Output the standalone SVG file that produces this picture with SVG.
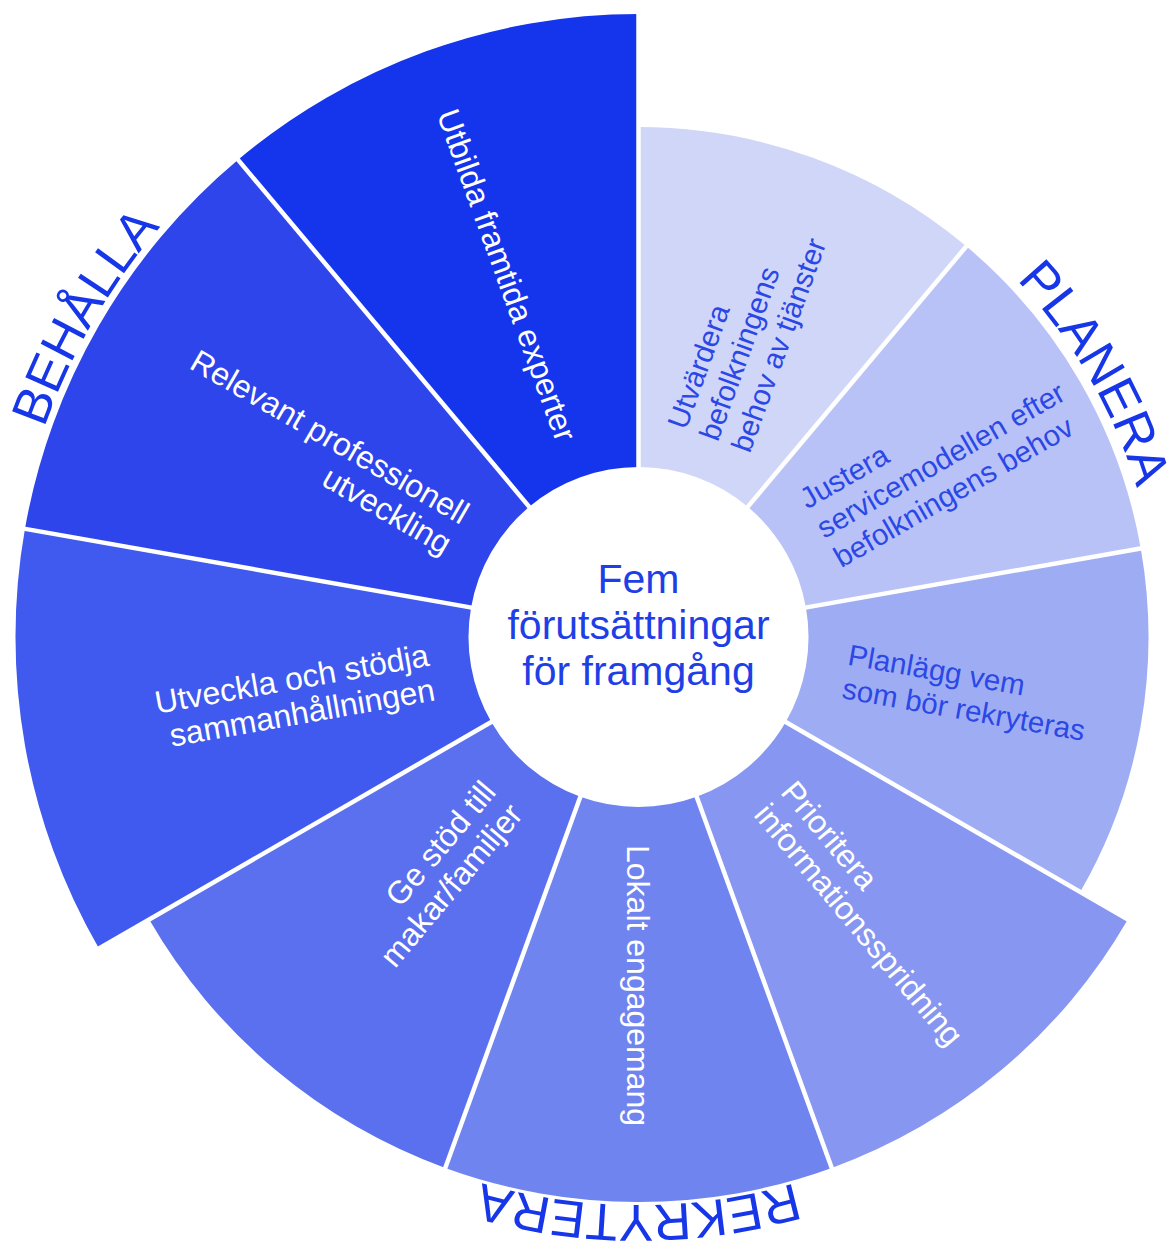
<svg xmlns="http://www.w3.org/2000/svg" width="1168" height="1244" viewBox="0 0 1168 1244">
<defs>
<style>
.lbl{font-family:"Liberation Sans",Arial,Helvetica,sans-serif;}
.lt{fill:#2B47E6;font-size:29.5px}
.dk{fill:#FFFFFF;font-size:32px}
.sep{stroke:#FFFFFF;stroke-width:4.5;fill:none}
.ring{font-family:"Liberation Sans",Arial,Helvetica,sans-serif;font-size:52px;fill:#1636E8}
.center{font-family:"Liberation Sans",Arial,Helvetica,sans-serif;font-size:41px;fill:#1F3FE6;text-anchor:middle}
</style>
<path id="arcPlanera" d="M 638.5 117 A 520 520 0 0 1 1088.83 897"/>
<path id="arcBehalla" d="M 92.9 952 A 630 630 0 0 1 638.5 7"/>
<path id="arcRekrytera" d="M 1130.4 921 A 568 568 0 0 1 146.6 921"/>
</defs>
<rect width="1168" height="1244" fill="#FFFFFF"/>

<g id="n1">
<path fill="#D0D6F8" d="M 638.5 467 L 638.5 127 A 510 510 0 0 1 966.32 246.32 L 747.77 506.77 A 170 170 0 0 0 638.5 467 Z"/>
<text class="lbl lt" transform="translate(638.5 637) rotate(-70) translate(210 0)"><tspan x="0" y="-26">Utvärdera</tspan><tspan x="0" y="8">befolkningens</tspan><tspan x="0" y="42">behov av tjänster</tspan></text>
</g>
<g id="n2">
<path fill="#B8C2F7" d="M 747.77 506.77 L 966.32 246.32 A 510 510 0 0 1 1140.75 548.44 L 805.92 607.48 A 170 170 0 0 0 747.77 506.77 Z"/>
<text class="lbl lt" transform="translate(638.5 637) rotate(-30) translate(210 0)"><tspan x="0" y="-26">Justera</tspan><tspan x="0" y="8">servicemodellen efter</tspan><tspan x="0" y="42">befolkningens behov</tspan></text>
</g>
<g id="n3">
<path fill="#9EADF3" d="M 805.92 607.48 L 1140.75 548.44 A 510 510 0 0 1 1080.17 892 L 785.72 722 A 170 170 0 0 0 805.92 607.48 Z"/>
<text class="lbl lt" transform="translate(638.5 637) rotate(10) translate(210 0)"><tspan x="0" y="-9">Planlägg vem</tspan><tspan x="0" y="25">som bör rekryteras</tspan></text>
</g>
<g id="n4">
<path fill="#8797F1" d="M 785.72 722 L 1127.8 919.5 A 565 565 0 0 1 831.74 1167.93 L 696.64 796.75 A 170 170 0 0 0 785.72 722 Z"/>
<text class="lbl dk" transform="translate(638.5 637) rotate(50) translate(210 0)"><tspan x="0" y="-8">Prioritera</tspan><tspan x="0" y="27">informationsspridning</tspan></text>
</g>
<g id="n5">
<path fill="#6F84EF" d="M 696.64 796.75 L 831.74 1167.93 A 565 565 0 0 1 445.26 1167.93 L 580.36 796.75 A 170 170 0 0 0 696.64 796.75 Z"/>
<text class="lbl dk" transform="translate(638.5 637) rotate(90) translate(208 0)"><tspan x="0" y="12">Lokalt engagemang</tspan></text>
</g>
<g id="n6">
<path fill="#5A70EE" d="M 580.36 796.75 L 445.26 1167.93 A 565 565 0 0 1 149.2 919.5 L 491.28 722 A 170 170 0 0 0 580.36 796.75 Z"/>
<text class="lbl dk" text-anchor="end" transform="translate(638.5 637) rotate(-50) translate(-210 0)"><tspan x="0" y="-8">Ge stöd till</tspan><tspan x="0" y="27">makar/familjer</tspan></text>
</g>
<g id="n7">
<path fill="#4059EE" d="M 491.28 722 L 98.97 948.5 A 623 623 0 0 1 24.96 528.82 L 471.08 607.48 A 170 170 0 0 0 491.28 722 Z"/>
<text class="lbl dk" text-anchor="end" transform="translate(638.5 637) rotate(-10) translate(-210 0)"><tspan x="0" y="-8">Utveckla och stödja</tspan><tspan x="0" y="27">sammanhållningen</tspan></text>
</g>
<g id="n8">
<path fill="#2D45EB" d="M 471.08 607.48 L 24.96 528.82 A 623 623 0 0 1 238.04 159.75 L 529.23 506.77 A 170 170 0 0 0 471.08 607.48 Z"/>
<text class="lbl dk" text-anchor="end" transform="translate(638.5 637) rotate(30) translate(-210 0)"><tspan x="0" y="-8">Relevant professionell</tspan><tspan x="0" y="27">utveckling</tspan></text>
</g>
<g id="n9">
<path fill="#1535EC" d="M 529.23 506.77 L 238.04 159.75 A 623 623 0 0 1 638.5 14 L 638.5 467 A 170 170 0 0 0 529.23 506.77 Z"/>
<text class="lbl dk" text-anchor="end" transform="translate(638.5 637) rotate(70) translate(-210 0)"><tspan x="0" y="11">Utbilda framtida experter</tspan></text>
</g>

<g id="connectors">
<line class="sep" x1="638.5" y1="472" x2="638.5" y2="7"/>
<line class="sep" x1="744.56" y1="510.6" x2="1043.46" y2="154.39"/>
<line class="sep" x1="800.99" y1="608.35" x2="1258.93" y2="527.6"/>
<line class="sep" x1="781.39" y1="719.5" x2="1184.1" y2="952"/>
<line class="sep" x1="694.93" y1="792.05" x2="853.97" y2="1229.01"/>
<line class="sep" x1="582.07" y1="792.05" x2="423.03" y2="1229.01"/>
<line class="sep" x1="495.61" y1="719.5" x2="92.9" y2="952"/>
<line class="sep" x1="476.01" y1="608.35" x2="18.07" y2="527.6"/>
<line class="sep" x1="532.44" y1="510.6" x2="233.54" y2="154.39"/>
</g>

<g id="center">
<text class="center"><tspan x="638.5" y="593">Fem</tspan><tspan x="638.5" y="639">förutsättningar</tspan><tspan x="638.5" y="685">för framgång</tspan></text>
</g>

<g id="ring-labels">
<text class="ring" text-anchor="middle"><textPath href="#arcPlanera" startOffset="50%">PLANERA</textPath></text>
<text class="ring" text-anchor="middle"><textPath href="#arcBehalla" startOffset="50%">BEHÅLLA</textPath></text>
<text class="ring" text-anchor="middle"><textPath href="#arcRekrytera" startOffset="50%">REKRYTERA</textPath></text>
</g>
</svg>
